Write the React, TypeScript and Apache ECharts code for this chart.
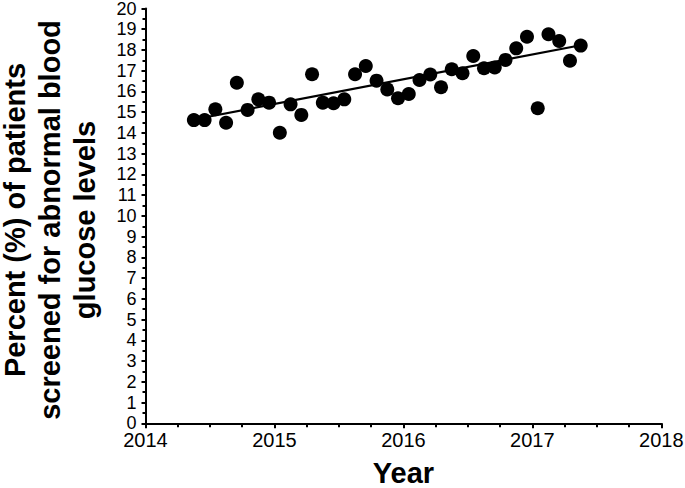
import React, { useEffect, useRef } from "react";
import * as echarts from "echarts";

// Monthly observations (May 2014 – May 2017)
const months: string[] = [
  "2014-05", "2014-06", "2014-07", "2014-08", "2014-09", "2014-10", "2014-11", "2014-12",
  "2015-01", "2015-02", "2015-03", "2015-04", "2015-05", "2015-06", "2015-07", "2015-08",
  "2015-09", "2015-10", "2015-11", "2015-12", "2016-01", "2016-02", "2016-03", "2016-04",
  "2016-05", "2016-06", "2016-07", "2016-08", "2016-09", "2016-10", "2016-11", "2016-12",
  "2017-01", "2017-02", "2017-03", "2017-04", "2017-05",
];

const percentScreened: number[] = [
  14.62, 14.62, 15.14, 14.49, 16.42, 15.11, 15.62, 15.46,
  14.01, 15.38, 14.87, 16.83, 15.46, 15.43, 15.62, 16.83,
  17.23, 16.52, 16.10, 15.67, 15.88, 16.55, 16.82, 16.20,
  17.07, 16.88, 17.71, 17.12, 17.16, 17.52, 18.08, 18.64,
  15.19, 18.76, 18.43, 17.48, 18.21,
];

// Linear trend line end points (start month, end month)
const trendMonths: string[] = ["2014-05", "2017-05"];
const trendValues: number[] = [14.65, 18.23];

const xTicks: number[] = [2014, 2015, 2016, 2017, 2018];

const yTitle = "Percent (%) of patients\nscreened for abnormal blood\nglucose levels";
const xTitle = "Year";

function monthToYear(m: string): number {
  const [y, mo] = m.split("-").map(Number);
  return y + (mo - 0.5) / 12;
}

export default function App() {
  const ref = useRef<HTMLDivElement>(null);

  useEffect(() => {
    document.body.style.margin = "0";
    if (!ref.current) return;
    const chart = echarts.init(ref.current, null, { renderer: "svg" });
    const font = "'Liberation Sans', Arial, Helvetica, sans-serif";
    const scatterData = months.map((m, i) => [monthToYear(m), percentScreened[i]]);
    const trendData = trendMonths.map((m, i) => [monthToYear(m), trendValues[i]]);

    chart.setOption({
      animation: false,
      backgroundColor: "#ffffff",
      grid: {
        left: 145.5,
        right: 23.7,
        top: 8.5,
        bottom: 64.7,
        containLabel: false,
        outerBoundsMode: "none",
      },
      xAxis: {
        type: "value",
        min: xTicks[0],
        max: xTicks[xTicks.length - 1],
        interval: 1,
        name: xTitle,
        nameLocation: "middle",
        nameGap: 38.5,
        nameTextStyle: {
          fontFamily: font,
          fontSize: 29,
          lineHeight: 22,
          fontWeight: "bold",
          color: "#000",
        },
        axisLine: { show: true, onZero: false, lineStyle: { color: "#000", width: 2 } },
        axisTick: { show: true, inside: false, length: 5, lineStyle: { color: "#000", width: 2 } },
        minorTick: { show: true, splitNumber: 4, length: 4, lineStyle: { color: "#000", width: 2 } },
        axisLabel: {
          fontFamily: font,
          fontSize: 20,
          lineHeight: 16,
          color: "#000",
          margin: 9,
          formatter: (v: number) => String(v),
        },
        splitLine: { show: false },
        minorSplitLine: { show: false },
      },
      yAxis: {
        type: "value",
        min: 0,
        max: 20,
        interval: 1,
        axisLine: { show: true, onZero: false, lineStyle: { color: "#000", width: 2 } },
        axisTick: { show: true, inside: false, length: 4, lineStyle: { color: "#000", width: 2 } },
        minorTick: { show: true, splitNumber: 2, length: 3, lineStyle: { color: "#000", width: 2 } },
        axisLabel: { fontFamily: font, fontSize: 18, lineHeight: 13, color: "#000", margin: 9 },
        splitLine: { show: false },
        minorSplitLine: { show: false },
      },
      graphic: [
        {
          type: "text",
          x: 50,
          y: 220,
          rotation: Math.PI / 2,
          style: {
            text: yTitle,
            fontFamily: font,
            fontSize: 29,
            fontWeight: "bold",
            lineHeight: 35,
            fill: "#000",
            align: "center",
            verticalAlign: "middle",
          },
        },
      ],
      series: [
        {
          type: "line",
          data: trendData,
          symbol: "none",
          lineStyle: { color: "#000", width: 2.2 },
          z: 2,
        },
        {
          type: "scatter",
          data: scatterData,
          symbol: "circle",
          symbolSize: 14,
          itemStyle: { color: "#000", opacity: 1 },
          z: 3,
        },
      ],
    });

    return () => chart.dispose();
  }, []);

  return <div ref={ref} style={{ width: 685, height: 488 }} />;
}
